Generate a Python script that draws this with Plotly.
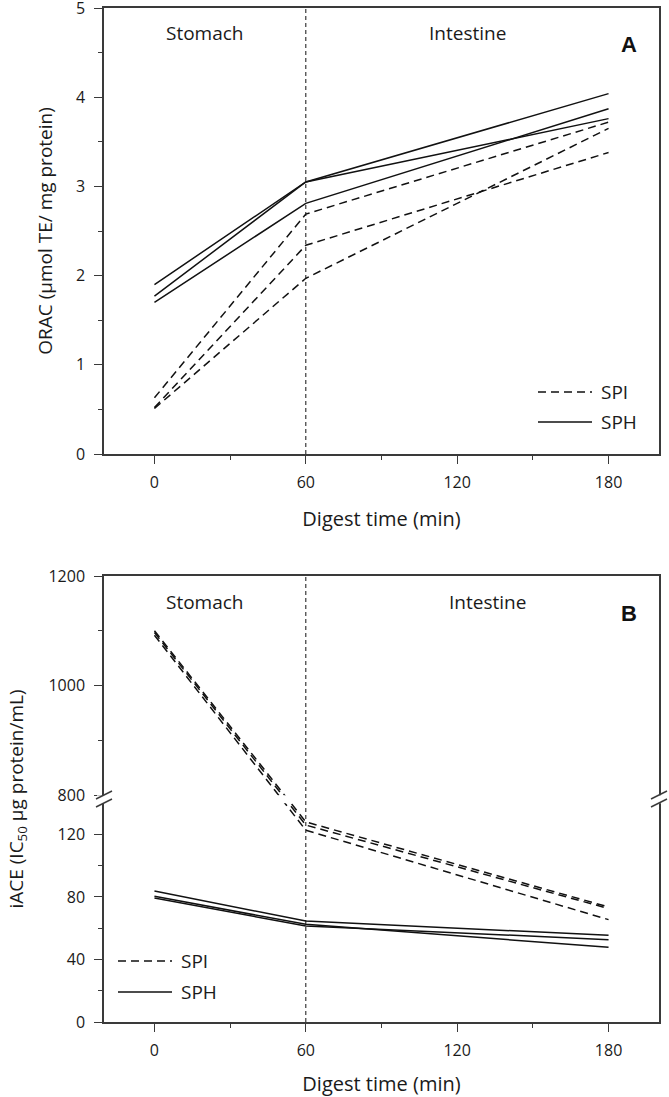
import plotly.graph_objects as go

# Digestion time points (min)
time_min = [0, 60, 180]

# Panel A: ORAC (umol TE / mg protein), three replicates per material
orac_spi = [
    [0.63, 2.69, 3.72],
    [0.52, 2.34, 3.38],
    [0.51, 1.97, 3.65],
]
orac_sph = [
    [1.90, 3.05, 4.04],
    [1.77, 3.05, 3.76],
    [1.70, 2.81, 3.87],
]

# Panel B: iACE (IC50 ug protein/mL), broken y axis
iace_spi = [
    [1100, 128.0, 73.6],
    [1097, 126.0, 72.6],
    [1092, 122.7, 65.5],
]
iace_sph = [
    [83.8, 64.6, 55.5],
    [80.4, 62.5, 47.8],
    [79.4, 61.4, 52.7],
]

x_ticks = [0, 60, 120, 180]
x_minor = [30, 90, 150]
iace_major = [0, 40, 80, 120, 800, 1000, 1200]
iace_minor = [20, 60, 100, 900, 1100]

# Broken axis scale: 0-140 linear, then 800-1200 compressed above a small gap
LOW_TOP, GAP_BASE, HIGH_START, HIGH_K = 140, 145.1, 800, 0.3507


def brk(v):
    return v if v <= LOW_TOP else GAP_BASE + (v - HIGH_START) * HIGH_K


FONT = "Open Sans"
INK = "#111111"
AXIS = "#3a3a3a"
TXT = "#1a1a1a"
W, H = 669, 1097
ML, MR, MT, MB = 104, 10, 8, 75
PW, PH = W - ML - MR, H - MT - MB


def px(x):  # pixel -> paper x
    return (x - ML) / PW


def py(y):  # pixel -> paper y
    return (H - MB - y) / PH


fig = go.Figure()

for rep in orac_spi:
    fig.add_trace(go.Scatter(x=time_min, y=rep, mode="lines", xaxis="x", yaxis="y",
                             line=dict(color=INK, width=1.5, dash="8px,5px"), showlegend=False))
for rep in orac_sph:
    fig.add_trace(go.Scatter(x=time_min, y=rep, mode="lines", xaxis="x", yaxis="y",
                             line=dict(color=INK, width=1.5), showlegend=False))
for rep in iace_spi:
    fig.add_trace(go.Scatter(x=time_min, y=[brk(v) for v in rep], mode="lines", xaxis="x2", yaxis="y2",
                             line=dict(color=INK, width=1.5, dash="8px,5px"), showlegend=False))
for rep in iace_sph:
    fig.add_trace(go.Scatter(x=time_min, y=[brk(v) for v in rep], mode="lines", xaxis="x2", yaxis="y2",
                             line=dict(color=INK, width=1.5), showlegend=False))

xaxis_common = dict(
    range=[-20, 200],
    tickmode="array",
    tickvals=x_ticks,
    ticks="outside",
    ticklen=8,
    tickwidth=1.3,
    tickcolor=AXIS,
    ticklabelstandoff=5,
    minor=dict(tickmode="array", tickvals=x_minor, ticks="outside", ticklen=4, tickwidth=1.3, tickcolor=AXIS),
    showline=True,
    linecolor=AXIS,
    linewidth=1.5,
    mirror=True,
    showgrid=False,
    zeroline=False,
    automargin=False,
    tickfont=dict(size=16, color=TXT),
    title=dict(text="Digest time (min)", font=dict(size=20, color=TXT), standoff=20),
)
yaxis_common = dict(
    ticks="outside",
    ticklen=8,
    tickwidth=1.3,
    tickcolor=AXIS,
    ticklabelstandoff=6,
    ticklabeloverflow="allow",
    showline=True,
    linecolor=AXIS,
    linewidth=1.5,
    mirror=True,
    showgrid=False,
    zeroline=False,
    automargin=False,
    tickfont=dict(size=16, color=TXT),
)

fig.update_layout(
    width=W,
    height=H,
    margin=dict(l=ML, r=MR, t=MT, b=MB),
    plot_bgcolor="white",
    paper_bgcolor="white",
    font=dict(family=FONT, color=TXT),
    showlegend=False,
    xaxis=dict(xaxis_common, anchor="y"),
    yaxis=dict(
        yaxis_common,
        domain=[py(454), 1],
        range=[0, 5],
        dtick=1,
        minor=dict(dtick=0.5, ticks="outside", ticklen=4, tickwidth=1.3, tickcolor=AXIS),
        title=dict(text="ORAC (µmol TE/ mg protein)", font=dict(size=19, color=TXT), standoff=18),
        anchor="x",
    ),
    xaxis2=dict(xaxis_common, anchor="y2"),
    yaxis2=dict(
        yaxis_common,
        domain=[0, py(576)],
        range=[0, brk(1200)],
        tickmode="array",
        tickvals=[brk(v) for v in iace_major],
        ticktext=[str(v) for v in iace_major],
        minor=dict(tickmode="array", tickvals=[brk(v) for v in iace_minor], ticks="outside",
                   ticklen=4, tickwidth=1.3, tickcolor=AXIS),
        title=dict(text="iACE (IC<sub>50</sub> µg protein/mL)", font=dict(size=19, color=TXT), standoff=20),
        anchor="x2",
    ),
)

shapes = []
# white band hiding the axis break
shapes.append(dict(type="rect", xref="paper", yref="y2", x0=px(97), x1=1.03,
                   y0=brk(LOW_TOP), y1=brk(HIGH_START), fillcolor="white", line=dict(width=0), layer="above"))
# stage separators
for xr, yr in [("x", "y domain"), ("x2", "y2 domain")]:
    shapes.append(dict(type="line", xref=xr, yref=yr, x0=60, x1=60, y0=0, y1=1,
                       line=dict(color=INK, width=1, dash="4px,3px"), layer="above"))
# break marks (//) on both sides
for cx in (104, 659):
    for dy in (-4, 4):
        cy = 799 + dy
        shapes.append(dict(type="line", xref="paper", yref="paper",
                           x0=px(cx - 8), y0=py(cy + 4), x1=px(cx + 8), y1=py(cy - 4),
                           line=dict(color=AXIS, width=1.5), layer="above"))
# legend samples
legend_rows = [
    (538, 592, 392, 422),
    (118, 172, 961, 992),
]
for x0, x1, y_spi, y_sph in legend_rows:
    shapes.append(dict(type="line", xref="paper", yref="paper", x0=px(x0), x1=px(x1), y0=py(y_spi), y1=py(y_spi),
                       line=dict(color=INK, width=1.5, dash="8px,5px")))
    shapes.append(dict(type="line", xref="paper", yref="paper", x0=px(x0), x1=px(x1), y0=py(y_sph), y1=py(y_sph),
                       line=dict(color=INK, width=1.5)))
fig.update_layout(shapes=shapes)

annotations = []
for x0, x1, y_spi, y_sph in legend_rows:
    for label, yy in (("SPI", y_spi), ("SPH", y_sph)):
        annotations.append(dict(xref="paper", yref="paper", x=px(x1 + 7), y=py(yy), text=label,
                                showarrow=False, xanchor="left", yanchor="middle", font=dict(size=19, color=TXT)))
top_frac = (454 - 33) / (454 - 8)
bot_frac = (1022 - 602) / (1022 - 576)
stage_labels = [
    ("x", "y domain", 20, top_frac, "Stomach"),
    ("x", "y domain", 124, top_frac, "Intestine"),
    ("x2", "y2 domain", 20, bot_frac, "Stomach"),
    ("x2", "y2 domain", 132, bot_frac, "Intestine"),
]
for xr, yr, xv, yv, text in stage_labels:
    annotations.append(dict(xref=xr, yref=yr, x=xv, y=yv, text=text,
                            showarrow=False, xanchor="center", yanchor="middle", font=dict(size=19, color=TXT)))
for label, yy in (("A", 45), ("B", 613)):
    annotations.append(dict(xref="paper", yref="paper", x=px(629), y=py(yy), text=f"<b>{label}</b>",
                            showarrow=False, xanchor="center", yanchor="middle",
                            font=dict(size=22, color="#111", family="Liberation Sans")))
fig.update_layout(annotations=annotations)

# the page's default body margin would shift the figure by 8px
fig.write_html(
    "out.html",
    config={"displayModeBar": False},
    post_script="document.body.style.margin = '0px';",
)
